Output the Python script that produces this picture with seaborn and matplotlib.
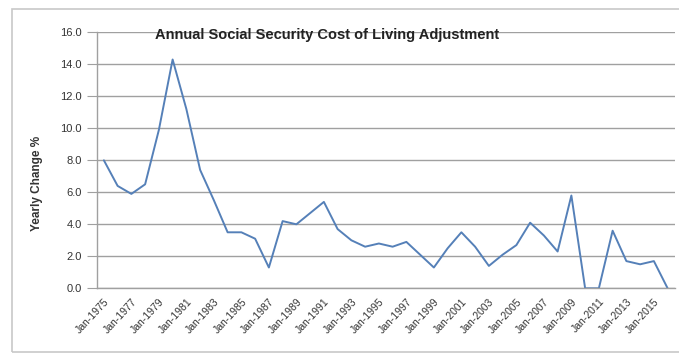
import numpy as np
import pandas as pd
import matplotlib
matplotlib.use("Agg")
import matplotlib.pyplot as plt
import seaborn as sns
from matplotlib.patches import Rectangle

years = list(range(1975, 2017))
cola = [8.0, 6.4, 5.9, 6.5, 9.9, 14.3, 11.2, 7.4, 5.5, 3.5,
        3.5, 3.1, 1.3, 4.2, 4.0, 4.7, 5.4, 3.7, 3.0, 2.6,
        2.8, 2.6, 2.9, 2.1, 1.3, 2.5, 3.5, 2.6, 1.4, 2.1,
        2.7, 4.1, 3.3, 2.3, 5.8, 0.0, 0.0, 3.6, 1.7, 1.5,
        1.7, 0.0]
label_years = years[::2]
tick_labels = [f"Jan-{y}" for y in label_years]
y_ticks = [0, 2, 4, 6, 8, 10, 12, 14, 16]
title = "Annual Social Security Cost of Living Adjustment"
ylabel = "Yearly Change %"

df = pd.DataFrame({"year": years, "cola": cola})

sns.set_theme(style="white")
plt.rcParams['font.family'] = ['Liberation Sans', 'DejaVu Sans']

W, H = 679, 354
fig = plt.figure(figsize=(W / 100, H / 100), dpi=100)
ax = fig.add_axes([97 / W, (H - 288.3) / H, (674.5 - 97) / W, 256 / H])

# chart frame
fig.patches.append(Rectangle((12 / W, 2.5 / H), (W + 5 - 12) / W, (345 - 2.5) / H,
                             transform=fig.transFigure, fill=False,
                             edgecolor="#c8c8c8", linewidth=1.2, zorder=0))

sns.lineplot(data=df, x="year", y="cola", ax=ax, color="#5580b8", linewidth=1.4)

ax.set_xlim(years[0] - 0.5, years[-1] + 0.5)
ax.set_ylim(0, 16)
ax.set_yticks(y_ticks)
ax.set_yticklabels([f"{v:.1f}" for v in y_ticks], fontsize=8, color="#333333")
ax.yaxis.grid(True, color="#a0a0a0", linewidth=1.0)
ax.set_axisbelow(True)

ax.set_xticks(label_years)
ax.set_xticklabels(tick_labels, rotation=47, ha="right", rotation_mode="anchor",
                   fontsize=7.5, color="#333333")
ax.tick_params(axis="x", which="major", length=0, pad=6)
ax.set_xticks([y - 0.5 for y in label_years] + [years[-1] + 0.5], minor=True)
ax.tick_params(axis="x", which="minor", length=3, color="#a0a0a0", width=0.8,
               direction="out")
ax.tick_params(axis="y", length=7, color="#a0a0a0", width=0.8, direction="out", pad=4,
               left=True)

for s in ["top", "right"]:
    ax.spines[s].set_visible(False)
ax.spines["left"].set_color("#a0a0a0")
ax.spines["left"].set_linewidth(1.0)
ax.spines["bottom"].set_color("#a0a0a0")
ax.spines["bottom"].set_linewidth(1.0)

ax.set_xlabel("")
ax.set_ylabel(ylabel, fontsize=8.5, fontweight="bold", color="#333333")
ax.yaxis.set_label_coords(-0.093, 0.41)

ax.text(0.398, 0.99, title, transform=ax.transAxes, ha="center", va="center",
        fontsize=10.5, fontweight="bold", color="#222222")

fig.savefig("out.png", dpi=100)
